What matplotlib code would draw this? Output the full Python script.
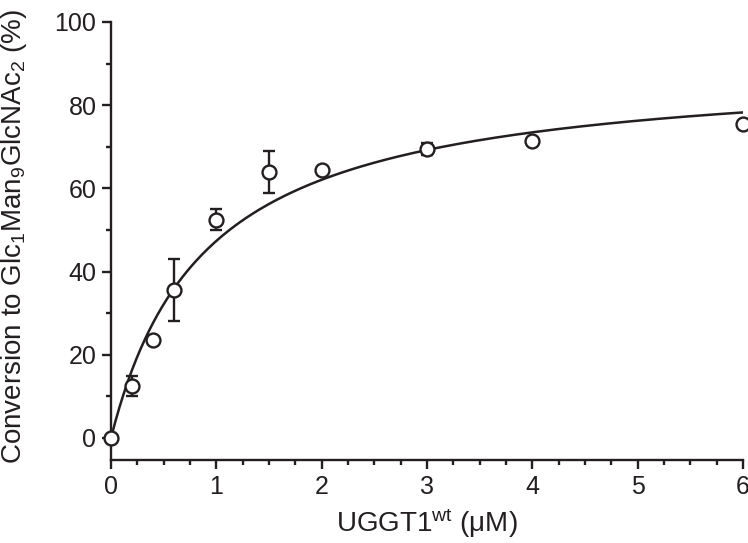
import matplotlib
matplotlib.use("Agg")
import matplotlib.pyplot as plt
import numpy as np
from matplotlib.ticker import MultipleLocator

plt.rcParams['font.family'] = ['Liberation Sans', 'DejaVu Sans']
plt.rcParams['mathtext.fontset'] = 'custom'
plt.rcParams['mathtext.rm'] = 'Liberation Sans'
plt.rcParams['mathtext.it'] = 'Liberation Sans:italic'

ink = '#231f20'

conc = [0, 0.2, 0.4, 0.6, 1.0, 1.5, 2.0, 3.0, 4.0, 6.0]
conversion = [0.0, 12.5, 23.5, 35.5, 52.5, 64.0, 64.5, 69.5, 71.5, 75.5]
err = [0.0, 2.5, 0.0, 7.5, 2.5, 5.0, 0.0, 1.5, 0.0, 0.0]

# hyperbolic fit parameters
vmax = 90.0
km = 0.9

fig = plt.figure(figsize=(7.48, 5.43), dpi=100)
ax = fig.add_axes([0.1484, 0.1529, 0.8449, 0.8066])

xfit = np.linspace(0, 6, 300)
ax.plot(xfit, vmax * xfit / (km + xfit), color=ink, lw=1.8, zorder=2)

ax.errorbar(conc, conversion, yerr=err, fmt='o', ms=10, mfc='white', mec=ink,
            mew=1.7, ecolor=ink, elinewidth=1.7, capsize=4.5, capthick=1.7,
            zorder=3, clip_on=False)

ax.set_xlim(0, 6)
ax.set_ylim(-5.3, 100)
ax.xaxis.set_major_locator(MultipleLocator(1))
ax.xaxis.set_minor_locator(MultipleLocator(0.25))
ax.yaxis.set_major_locator(MultipleLocator(20))
ax.yaxis.set_minor_locator(MultipleLocator(10))
ax.set_yticks(range(0, 101, 20))

for s in ['top', 'right']:
    ax.spines[s].set_visible(False)
for s in ['left', 'bottom']:
    ax.spines[s].set_linewidth(1.7)
    ax.spines[s].set_color(ink)

ax.tick_params(which='major', direction='out', length=6.5, width=1.7, colors=ink,
               labelsize=18, pad=4)
ax.tick_params(which='minor', direction='out', length=3.5, width=1.7, colors=ink)

ax.set_xlabel(r"UGGT1$^{\mathrm{wt}}$ ($\mathrm{\mu}$M)", fontsize=20, color=ink)
ax.set_ylabel(r"Conversion to Glc$_{1}$Man$_{9}$GlcNAc$_{2}$ (%)", fontsize=20,
              color=ink)
ax.xaxis.set_label_coords(0.5, -0.105)
ax.yaxis.set_label_coords(-0.13, 0.51)

fig.savefig("out.png", dpi=100)
